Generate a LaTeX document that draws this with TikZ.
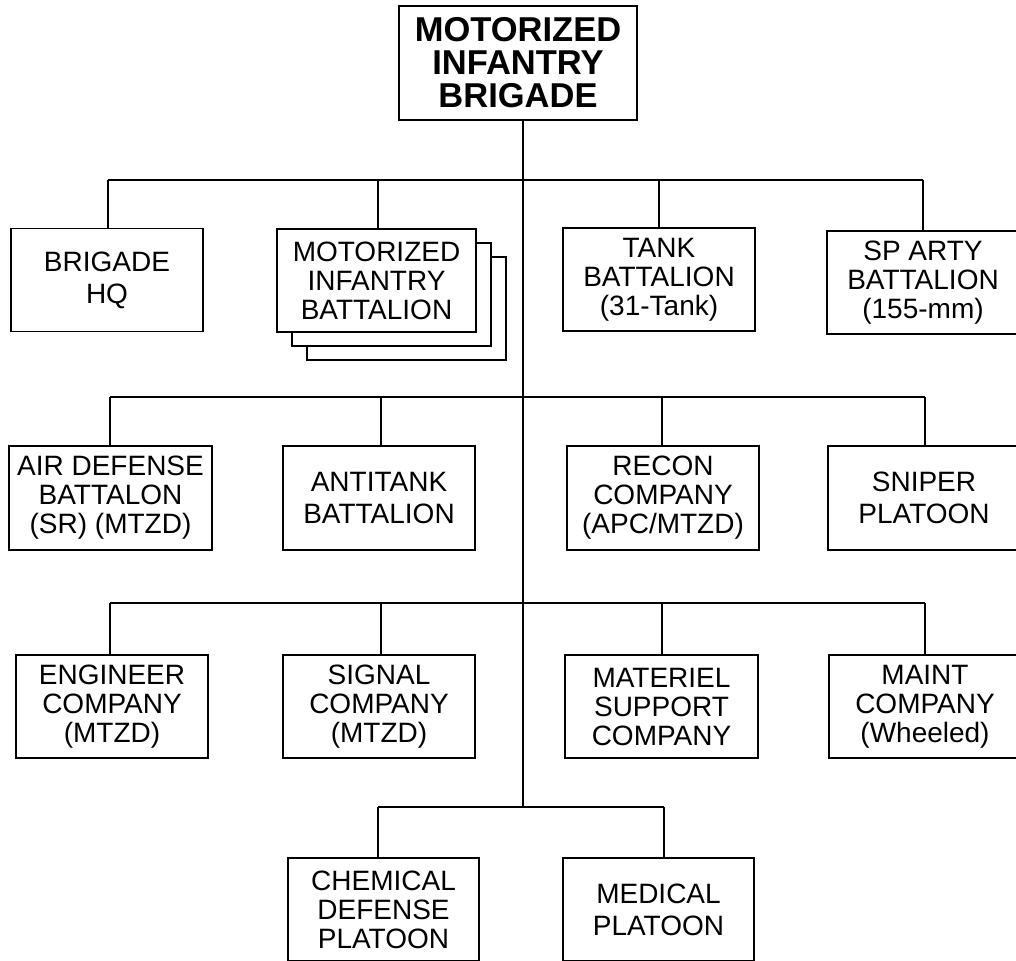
\documentclass[tikz,border=0pt]{standalone}
\usepackage{fontspec}
\setmainfont{Liberation Sans}
\begin{document}
\begin{tikzpicture}[x=1pt,y=-1pt,
  unit/.style={draw, line width=1.7pt, fill=white, minimum width=192pt, minimum height=103pt,
    inner sep=0pt, align=center, font=\fontsize{28}{29}\selectfont},
  twoline/.style={font=\fontsize{28}{32}\selectfont},
  head/.style={draw, line width=1.7pt, fill=white, minimum width=238pt, minimum height=114pt,
    inner sep=0pt, align=center, font=\bfseries\fontsize{34.5}{33}\selectfont},
  link/.style={line width=1.7pt},
  shadowbox/.style={draw, line width=1.7pt, fill=white}]
\useasboundingbox (0,0) rectangle (1016,960);
\clip (0,0) rectangle (1016,960);

% top
\node[head] (top) at (518,63) {MOTORIZED\\INFANTRY\\BRIGADE};

% bus coordinates
\coordinate (a1) at (108,180); \coordinate (a2) at (378,180);
\coordinate (a3) at (659,180); \coordinate (a4) at (923,180);
\coordinate (b1) at (110,397); \coordinate (b2) at (381,397);
\coordinate (b3) at (662,397); \coordinate (b4) at (925,397);
\coordinate (c1) at (110,603); \coordinate (c2) at (381,603);
\coordinate (c3) at (662,603); \coordinate (c4) at (925,603);
\coordinate (d1) at (378,807); \coordinate (d2) at (664,807);
\coordinate (trunkend) at (523,807);

% row 1
\node[unit, twoline] (hq) at (107,280) {BRIGADE\\HQ};
\node[shadowbox, minimum width=199pt, minimum height=103pt] (mibs2) at (406.5,308.5) {};
\node[shadowbox, minimum width=199pt, minimum height=103pt] (mibs1) at (391.5,294.5) {};
\node[unit, minimum width=199pt] (mib) at (376.5,280.5) {MOTORIZED\\INFANTRY\\BATTALION};
\node[unit] (tank) at (659,279.5) {TANK\\BATTALION\\(31-Tank)};
\node[unit] (sp) at (923,282.5) {SP ARTY\\BATTALION\\(155-mm)};

% row 2
\node[unit, minimum width=203pt, minimum height=104pt] (air) at (110.5,498) {AIR DEFENSE\\BATTALON\\(SR) (MTZD)};
\node[unit, twoline, minimum height=104pt] (anti) at (379,498) {ANTITANK\\BATTALION};
\node[unit, minimum height=104pt] (recon) at (663,498) {RECON\\COMPANY\\(APC/MTZD)};
\node[unit, twoline, minimum height=104pt] (sniper) at (924,498) {SNIPER\\PLATOON};

% row 3
\node[unit] (eng) at (112,706.5) {ENGINEER\\COMPANY\\(MTZD)};
\node[unit] (sig) at (379,706.5) {SIGNAL\\COMPANY\\(MTZD)};
\node[unit, minimum width=193pt] (mat) at (661.5,706.5) {MATERIEL\\SUPPORT\\COMPANY};
\node[unit] (maint) at (925,706.5) {MAINT\\COMPANY\\(Wheeled)};

% row 4
\node[unit, minimum width=191pt] (chem) at (383.5,909.5) {CHEMICAL\\DEFENSE\\PLATOON};
\node[unit, twoline, minimum width=191pt] (med) at (658.5,909.5) {MEDICAL\\PLATOON};

% trunk
\draw[link] (top.south -| trunkend) -- (trunkend);

% buses
\draw[link] (a1) -- (a4);
\draw[link] (b1) -- (b4);
\draw[link] (c1) -- (c4);
\draw[link] (d1) -- (d2);

% drops
\draw[link] (a1) -- (hq.north -| a1);
\draw[link] (a2) -- (mib.north -| a2);
\draw[link] (a3) -- (tank.north -| a3);
\draw[link] (a4) -- (sp.north -| a4);
\draw[link] (b1) -- (air.north -| b1);
\draw[link] (b2) -- (anti.north -| b2);
\draw[link] (b3) -- (recon.north -| b3);
\draw[link] (b4) -- (sniper.north -| b4);
\draw[link] (c1) -- (eng.north -| c1);
\draw[link] (c2) -- (sig.north -| c2);
\draw[link] (c3) -- (mat.north -| c3);
\draw[link] (c4) -- (maint.north -| c4);
\draw[link] (d1) -- (chem.north -| d1);
\draw[link] (d2) -- (med.north -| d2);
\end{tikzpicture}
\end{document}
